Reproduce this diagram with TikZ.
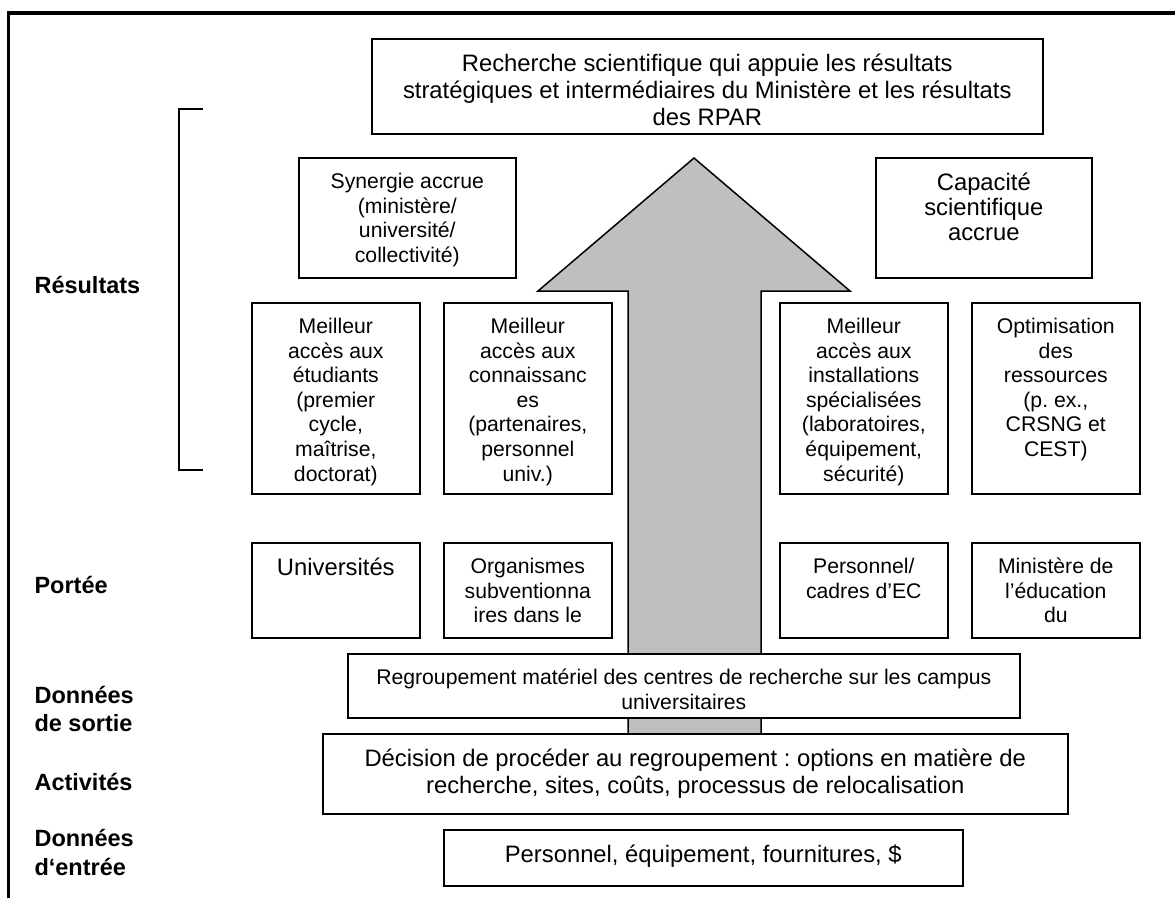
\documentclass[tikz,border=0pt]{standalone}
\usepackage{fontspec}
\setmainfont{Liberation Sans}
\frenchspacing
% text set at the top of a box of fixed size
\newcommand{\boxtext}[3]{\parbox[c][#2][t]{#1}{\centering\rule{0pt}{\dimexpr 15.5pt+0.716em\relax}#3}}
\begin{document}
\begin{tikzpicture}[x=1pt, y=-1pt,
    box/.style={draw, line width=1.6pt, fill=white, inner sep=0pt, anchor=north west},
    smalltxt/.style={font={\fontsize{21.2}{24.6}\selectfont}},
    bigtxt/.style={font={\fontsize{23.8}{27}\selectfont}},
    lbl/.style={anchor=west, align=left, font={\fontsize{23.5}{28.5}\selectfont\bfseries}}]
        \useasboundingbox (0,0) rectangle (1175,898);
        \draw[line width=3.4pt] (8.5,898) -- (8.5,13) -- (1175,13);

        % big arrow behind the boxes
        \draw[line width=1.5pt, fill=black!25] (694,158) -- (850,291) -- (761,291) -- (761,735)
            -- (628,735) -- (628,291) -- (538,291) -- cycle;

        % bracket of the outcomes
        \draw[line width=1.6pt] (203,109) -- (179,109) -- (179,470) -- (203,470);

        \node[lbl] (res) at (31,285) {Résultats};
        \node[lbl] (por) at (31,585) {Portée};
        \node[lbl] (sor) at (31,709) {Données\\de sortie};
        \node[lbl] (act) at (31,782) {Activités};
        \node[lbl] (ent) at (31,852.5) {Données\\d‘entrée};

        \node[box, bigtxt] (top) at (371,38) {\boxtext{671pt}{95pt}{Recherche scientifique qui appuie les résultats\\
            stratégiques et intermédiaires du Ministère et les résultats\\des RPAR}};
        \node[box, smalltxt] (syn) at (298,157) {\boxtext{217pt}{120pt}{Synergie accrue\\(ministère/\\université/\\collectivité)}};
        \node[box, font={\fontsize{23.8}{25}\selectfont}] (cap) at (875,157) {\boxtext{216pt}{120pt}{Capacité\\scientifique\\accrue}};

        \node[box, smalltxt] (etu) at (251,302) {\boxtext{168pt}{191pt}{Meilleur\\accès aux\\étudiants\\(premier\\cycle,\\maîtrise,\\doctorat)}};
        \node[box, smalltxt] (con) at (443,302) {\boxtext{168pt}{191pt}{Meilleur\\accès aux\\connaissanc\\es\\(partenaires,\\personnel\\univ.)}};
        \node[box, smalltxt] (ins) at (779,302) {\boxtext{168pt}{191pt}{Meilleur\\accès aux\\installations\\spécialisées\\(laboratoires,\\équipement,\\sécurité)}};
        \node[box, smalltxt] (opt) at (971,302) {\boxtext{168pt}{191pt}{Optimisation\\des\\ressources\\(p. ex.,\\CRSNG et\\CEST)}};

        \node[box, bigtxt] (uni) at (251,542) {\boxtext{168pt}{95pt}{Universités}};
        \node[box, smalltxt] (org) at (443,542) {\boxtext{168pt}{95pt}{Organismes\\subventionna\\ires dans le}};
        \node[box, smalltxt] (pec) at (779,542) {\boxtext{168pt}{95pt}{Personnel/\\cadres d’EC}};
        \node[box, smalltxt] (min) at (971,542) {\boxtext{168pt}{95pt}{Ministère de\\l’éducation\\du}};

        \node[box, smalltxt] (reg) at (347,653) {\boxtext{672pt}{64pt}{Regroupement matériel des centres de recherche sur les campus\\universitaires}};
        \node[box, bigtxt] (dec) at (322,733) {\boxtext{745pt}{80pt}{Décision de procéder au regroupement : options en matière de\\
            recherche, sites, coûts, processus de relocalisation}};
        \node[box, bigtxt] (inp) at (443,829) {\boxtext{519pt}{56pt}{Personnel, équipement, fournitures, \$}};
    \end{tikzpicture}
\end{document}
